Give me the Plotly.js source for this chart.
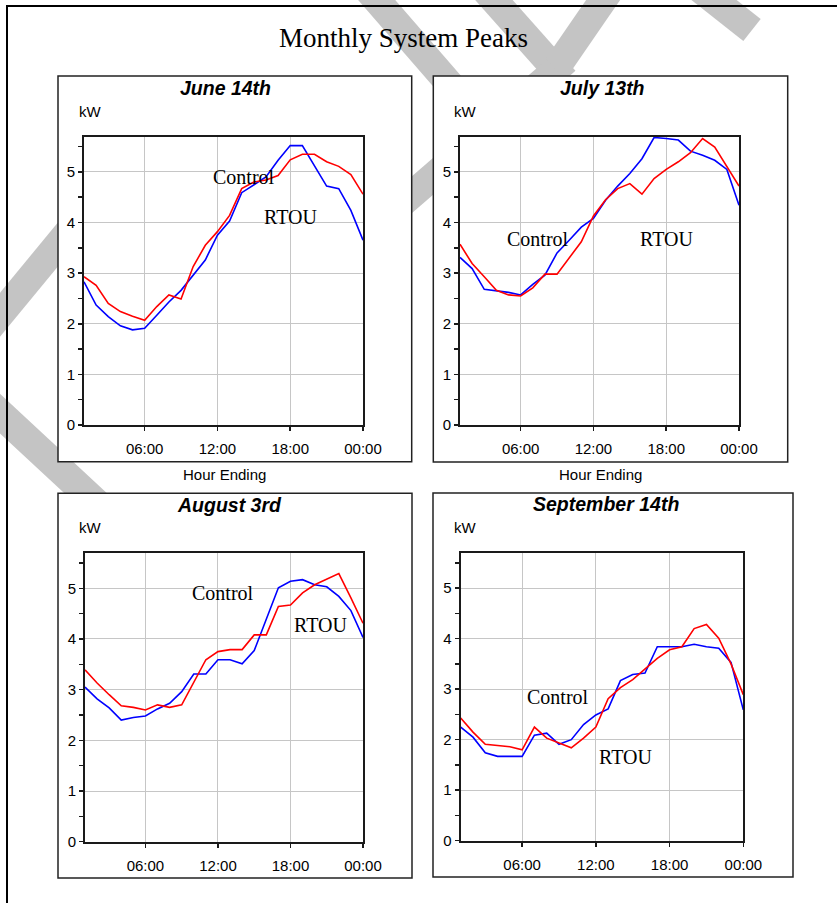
<!DOCTYPE html>
<html>
<head>
<meta charset="utf-8">
<script src="https://cdn.plot.ly/plotly-3.0.1.min.js"></script>
<style>html,body{margin:0;padding:0;background:#fff;}#chart{width:837px;height:903px;}</style>
</head>
<body>
<div id="chart"></div>
<script>
// ---- data (hour ending 1..24) ----
const hours = [1,2,3,4,5,6,7,8,9,10,11,12,13,14,15,16,17,18,19,20,21,22,23,24];
const tickVals = [6,12,18,24];
const tickText = ['06:00','12:00','18:00','00:00'];
const panelTitles = ['June 14th','July 13th','August 3rd','September 14th'];

const juneBlue = [2.83,2.37,2.14,1.96,1.88,1.91,2.17,2.43,2.66,2.96,3.26,3.75,4.03,4.59,4.74,4.90,5.23,5.52,5.52,5.11,4.72,4.67,4.24,3.65];
const juneRed  = [2.93,2.76,2.40,2.24,2.15,2.07,2.34,2.57,2.49,3.13,3.55,3.82,4.14,4.67,4.80,4.84,4.93,5.24,5.35,5.35,5.20,5.11,4.95,4.56];
const julyBlue = [3.31,3.09,2.68,2.65,2.62,2.57,2.78,2.96,3.40,3.65,3.91,4.08,4.44,4.72,4.97,5.26,5.68,5.66,5.63,5.41,5.33,5.23,5.05,4.34];
const julyRed  = [3.57,3.19,2.93,2.66,2.57,2.55,2.71,2.98,2.98,3.30,3.62,4.13,4.45,4.67,4.77,4.56,4.87,5.05,5.20,5.38,5.66,5.49,5.10,4.72];
const augBlue  = [3.05,2.82,2.64,2.40,2.45,2.48,2.62,2.73,2.96,3.31,3.31,3.59,3.59,3.51,3.77,4.38,5.01,5.14,5.17,5.07,5.03,4.84,4.56,4.03];
const augRed   = [3.39,3.13,2.90,2.68,2.65,2.60,2.70,2.65,2.70,3.13,3.59,3.75,3.79,3.79,4.08,4.08,4.64,4.67,4.91,5.07,5.18,5.29,4.81,4.31];
const sepBlue  = [2.25,2.05,1.74,1.67,1.67,1.67,2.09,2.13,1.91,2.00,2.30,2.49,2.61,3.17,3.29,3.32,3.84,3.84,3.84,3.89,3.84,3.81,3.53,2.59];
const sepRed   = [2.43,2.15,1.91,1.89,1.86,1.80,2.25,2.03,1.93,1.84,2.03,2.25,2.81,3.03,3.19,3.40,3.61,3.78,3.84,4.20,4.28,4.01,3.50,2.89];

// label anchor positions (data coords): [hour, kW]
const controlPos = [[14.15,4.89],[7.41,3.68],[12.43,4.90],[8.94,2.85]];
const rtouPos    = [[18.05,4.10],[18.05,3.68],[20.50,4.28],[14.45,1.66]];

const blueSeries = [juneBlue, julyBlue, augBlue, sepBlue];
const redSeries  = [juneRed, julyRed, augRed, sepRed];

// ---- layout helpers ----
const W = 837, H = 903;
const px = x => x / W;
const py = y => 1 - y / H;

// plot rects in pixels [x0,x1,yTop,yBottom]
const plotRects = [[84,363,137,425],[460,739,137,425],[85,363,553.3,841.7],[460.7,743.3,553.3,840.7]];
const boxRects  = [[58,411.7,76,461.7],[433.3,787.7,76,462],[58,412,493.3,878],[433,793,493,877]];
const titlePos  = [[225.3,88],[602.4,88],[229.7,505.5],[605.5,504]];
const kwPos     = [[76.7,111],[451.7,111],[76.7,527.5],[452,527]];

const traces = [];
const annotations = [];
const layout = {
  width: W, height: H,
  margin: {l:0, r:0, t:0, b:0, pad:0},
  paper_bgcolor: '#ffffff',
  plot_bgcolor: '#ffffff',
  showlegend: false,
  shapes: [],
  annotations: annotations
};

const axisFont = {family: 'Arial, Liberation Sans, sans-serif', size: 15, color: '#000'};

for (let i = 0; i < 4; i++) {
  const sfx = i === 0 ? '' : String(i + 1);
  const r = plotRects[i];
  layout['xaxis' + sfx] = {
    domain: [px(r[0]), px(r[1])],
    anchor: 'y' + sfx,
    range: [1, 24],
    tickmode: 'array', tickvals: tickVals, ticktext: tickText,
    showgrid: true, gridcolor: '#c6c6c6', gridwidth: 1,
    showline: true, mirror: true, linecolor: '#1a1a1a', linewidth: 2,
    ticks: 'outside', ticklen: 4, tickcolor: '#1a1a1a', tickwidth: 1.5,
    ticklabelstandoff: 5,
    tickfont: axisFont, zeroline: false, fixedrange: true
  };
  layout['yaxis' + sfx] = {
    domain: [py(r[3]), py(r[2])],
    anchor: 'x' + sfx,
    range: [0, 5.69],
    tickmode: 'linear', tick0: 0, dtick: 1,
    showgrid: true, gridcolor: '#c6c6c6', gridwidth: 1,
    showline: true, mirror: true, linecolor: '#1a1a1a', linewidth: 2,
    ticks: 'outside', ticklen: 4, tickcolor: '#1a1a1a', tickwidth: 1.5,
    minor: {dtick: 0.5, tick0: 0, ticks: 'outside', ticklen: 4, tickcolor: '#1a1a1a', tickwidth: 1.5, showgrid: false},
    tickfont: axisFont, zeroline: false, fixedrange: true
  };
  traces.push({x: hours, y: blueSeries[i], xaxis: 'x' + sfx, yaxis: 'y' + sfx, type: 'scatter', mode: 'lines',
               name: 'Control', line: {color: '#0000ff', width: 1.6}, hoverinfo: 'skip'});
  traces.push({x: hours, y: redSeries[i], xaxis: 'x' + sfx, yaxis: 'y' + sfx, type: 'scatter', mode: 'lines',
               name: 'RTOU', line: {color: '#ff0000', width: 1.6}, hoverinfo: 'skip'});

  annotations.push({xref: 'paper', yref: 'paper', x: px(titlePos[i][0]), y: py(titlePos[i][1]),
    xanchor: 'center', yanchor: 'middle', showarrow: false, text: '<b><i>' + panelTitles[i] + '</i></b>',
    font: {family: 'Arial, Liberation Sans, sans-serif', size: 19.5, color: '#000'}});
  annotations.push({xref: 'paper', yref: 'paper', x: px(kwPos[i][0]), y: py(kwPos[i][1]),
    xanchor: 'left', yanchor: 'middle', showarrow: false, text: 'kW', font: axisFont});
  annotations.push({xref: 'x' + sfx, yref: 'y' + sfx, x: controlPos[i][0], y: controlPos[i][1],
    xanchor: 'center', yanchor: 'middle', showarrow: false, text: 'Control',
    font: {family: 'Liberation Serif, Times New Roman, serif', size: 20, color: '#000'}});
  annotations.push({xref: 'x' + sfx, yref: 'y' + sfx, x: rtouPos[i][0], y: rtouPos[i][1],
    xanchor: 'center', yanchor: 'middle', showarrow: false, text: 'RTOU',
    font: {family: 'Liberation Serif, Times New Roman, serif', size: 20, color: '#000'}});
}

// Hour Ending labels under top panels
[[224.7,475],[600.8,475]].forEach(p => annotations.push({xref: 'paper', yref: 'paper', x: px(p[0]), y: py(p[1]),
  xanchor: 'center', yanchor: 'middle', showarrow: false, text: 'Hour Ending', font: axisFont}));

// main title
annotations.push({xref: 'paper', yref: 'paper', x: px(403), y: py(38), xanchor: 'center', yanchor: 'middle',
  showarrow: false, text: 'Monthly System Peaks',
  font: {family: 'Liberation Serif, Times New Roman, serif', size: 27, color: '#000'}});

// watermark bands (decoration), drawn below panels
const wm = '#c4c4c4';
const bands = [
  [-20, 339, 130, 157, 28],
  [-20, 395, 150, 553, 29],
  [368, -10, 500, 142, 28],
  [485, -10, 565, 80, 28],
  [610, -10, 548, 80, 28],
  [556, 70, 400, 205, 28],
  [695, -15, 752, 30, 28]
];
bands.forEach(b => layout.shapes.push({type: 'line', xref: 'paper', yref: 'paper', layer: 'below',
  x0: px(b[0]), y0: py(b[1]), x1: px(b[2]), y1: py(b[3]), line: {color: wm, width: b[4]}}));

// outer frame (left & top)
layout.shapes.push({type: 'line', xref: 'paper', yref: 'paper', layer: 'below', x0: px(7), y0: py(6), x1: px(7), y1: py(903), line: {color: '#000', width: 2}});
layout.shapes.push({type: 'line', xref: 'paper', yref: 'paper', layer: 'below', x0: px(6), y0: py(6), x1: px(837), y1: py(6), line: {color: '#000', width: 2}});

// panel boxes
boxRects.forEach(b => layout.shapes.push({type: 'rect', xref: 'paper', yref: 'paper', layer: 'below',
  x0: px(b[0]), x1: px(b[1]), y0: py(b[3]), y1: py(b[2]), fillcolor: '#ffffff', line: {color: '#222', width: 1.5}}));

Plotly.newPlot('chart', traces, layout, {displayModeBar: false, staticPlot: true});
</script>
</body>
</html>
